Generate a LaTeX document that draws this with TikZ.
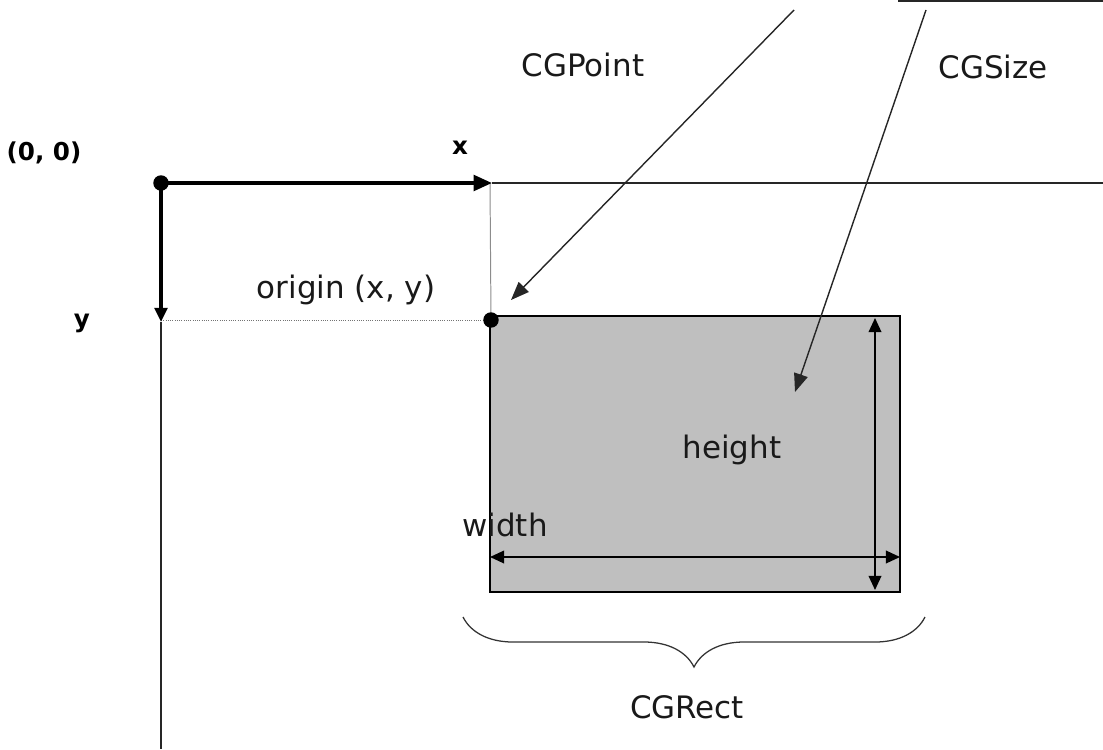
\documentclass[tikz,border=0pt]{standalone}
\usepackage{fontspec}
\setmainfont{DejaVu Sans}
\usetikzlibrary{arrows.meta,decorations.pathreplacing}
\begin{document}
\begin{tikzpicture}[x=0.025cm,y=-0.025cm,
  thinline/.style={line width=1pt,black!85},
  lbl/.style={font=\fontsize{22}{26}\selectfont,text=black!90,inner sep=0pt},
  blbl/.style={font=\fontsize{17.5}{20}\selectfont\bfseries,inner sep=0pt},
  tip/.style={-{Triangle[length=13pt,width=10pt]}},
  dtip/.style={{Triangle[length=10pt,width=9pt]}-{Triangle[length=10pt,width=9pt]}},
  dotnode/.style={circle,fill=black,inner sep=0pt,minimum size=11pt}]
\useasboundingbox (0,0) rectangle (1103,749);
% coordinates
\coordinate (O) at (161,183);
\coordinate (X) at (492,183);
\coordinate (Xend) at (1103,183);
\coordinate (Y) at (161,322);
\coordinate (Yend) at (161,749);
\coordinate (P) at (491,320);
\coordinate (Ptop) at (490,183);
\coordinate (R1) at (490,316);
\coordinate (R2) at (900,592);
\coordinate (Htop) at (875,318);
\coordinate (Hbot) at (875,590);
\coordinate (Wl) at (490,557);
\coordinate (Wr) at (900,557);
\coordinate (Ps) at (794,10);
\coordinate (Pe) at (511,300);
\coordinate (Ss) at (926,10);
\coordinate (Se) at (795,392);
\coordinate (Tl) at (898,1);
\coordinate (Tr) at (1103,1);
\coordinate (Bl) at (463,617);
\coordinate (Br) at (925,617);
% rectangle
\draw[fill=black!25,line width=1.1pt] (R1) rectangle (R2);
% axes continuation lines
\draw[thinline] (X) -- (Xend);
\draw[thinline] (Y) -- (Yend);
\draw[line width=0.7pt,black!45] (Ptop) -- (P);
\draw[line width=0.6pt,black!55,densely dotted] (161,320) -- (P);
\draw[thinline] (Tl) -- (Tr);
% thick axes
\draw[line width=2.6pt,-{Triangle[length=13pt,width=11pt]}] (O) -- (X);
\draw[line width=2.6pt,-{Triangle[length=10pt,width=9pt]}] (O) -- (Y);
\node[dotnode] (od) at (O) {};
\node[dotnode] (pd) at (P) {};
% dimension arrows
\draw[line width=1.1pt,dtip] (Htop) -- (Hbot);
\draw[line width=1.1pt,dtip] (Wl) -- (Wr);
% pointer arrows
\draw[thinline,tip] (Ps) -- (Pe);
\draw[thinline,tip] (Ss) -- (Se);
% brace
\draw[line width=0.9pt,black!80,decorate,decoration={brace,mirror,amplitude=1.25cm}] (Bl) -- (Br);
% labels
\node[blbl] (l00) at (44,153) {(0, 0)};
\node[blbl] (lx) at (460,148) {x};
\node[blbl] (ly) at (82,323) {y};
\node[lbl] (lorig) at (346,290) {origin (x, y)};
\node[lbl] (lpt) at (583,65) {CGPoint};
\node[lbl] (lsz) at (993,67) {CGSize};
\node[lbl] (lh) at (732,450) {height};
\node[lbl] (lw) at (505,525) {width};
\node[lbl] (lr) at (687,707) {CGRect};
\end{tikzpicture}
\end{document}
